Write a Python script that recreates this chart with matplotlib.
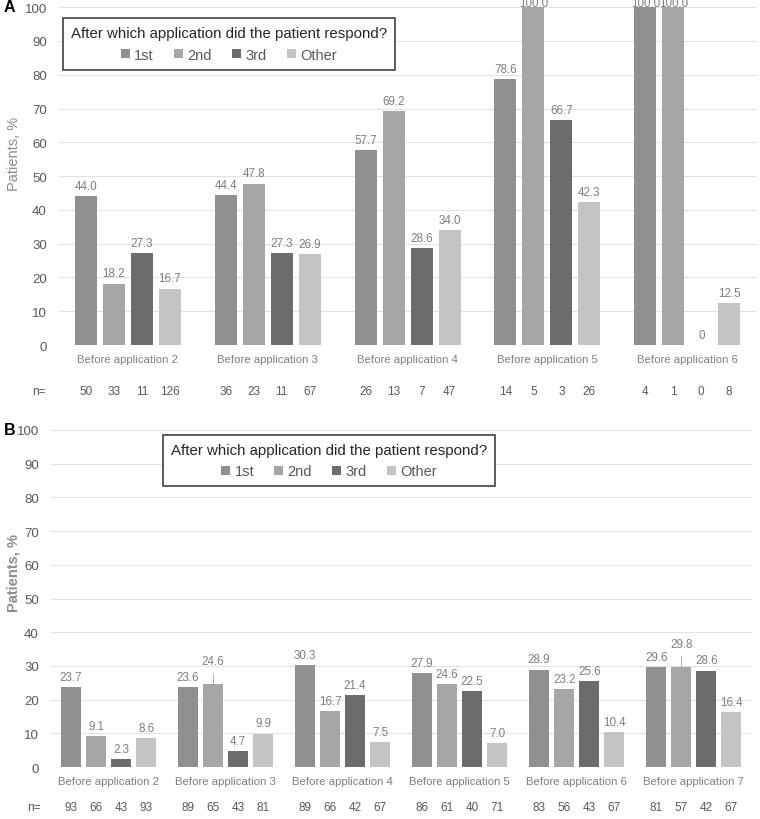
import numpy as np
import matplotlib
matplotlib.use("Agg")
import matplotlib.pyplot as plt
from matplotlib.patches import Patch

plt.rcParams["font.family"] = ["Liberation Sans", "DejaVu Sans"]

series = ["1st", "2nd", "3rd", "Other"]
colors = ["#909090", "#a6a6a6", "#6c6c6c", "#c4c4c4"]

# panel A
groups_a = ["Before application 2", "Before application 3", "Before application 4",
            "Before application 5", "Before application 6"]
a_1st = [44.0, 44.4, 57.7, 78.6, 100.0]
a_2nd = [18.2, 47.8, 69.2, 100.0, 100.0]
a_3rd = [27.3, 27.3, 28.6, 66.7, 0]
a_oth = [16.7, 26.9, 34.0, 42.3, 12.5]
n_a = [[50, 33, 11, 126], [36, 23, 11, 67], [26, 13, 7, 47], [14, 5, 3, 26], [4, 1, 0, 8]]

# panel B
groups_b = ["Before application 2", "Before application 3", "Before application 4",
            "Before application 5", "Before application 6", "Before application 7"]
b_1st = [23.7, 23.6, 30.3, 27.9, 28.9, 29.6]
b_2nd = [9.1, 24.6, 16.7, 24.6, 23.2, 29.8]
b_3rd = [2.3, 4.7, 21.4, 22.5, 25.6, 28.6]
b_oth = [8.6, 9.9, 7.5, 7.0, 10.4, 16.4]
n_b = [[93, 66, 43, 93], [89, 65, 43, 81], [89, 66, 42, 67], [86, 61, 40, 71],
       [83, 56, 43, 67], [81, 57, 42, 67]]

# labels lifted with a leader line: (series index, group index)
lifted_b = [(1, 1), (1, 5)]

LBL = "#7f7f7f"
TXT = "#595959"


def panel(ax, groups, vals, ns, pitch, width, bold_ylabel, ylab_xy, n_off,
          lifted=()):
    x = np.arange(len(groups))
    offs = (np.arange(4) - 1.5) * pitch
    for i, (v, c) in enumerate(zip(vals, colors)):
        bars = ax.bar(x + offs[i], v, width, color=c, zorder=3)
        for j, (b, val) in enumerate(zip(bars, v)):
            cx = b.get_x() + b.get_width() / 2
            up = 12 if (i, j) in lifted else 3
            if val >= 99:  # top labels sit on the frame edge, as in the source
                up = -1
            ax.annotate(f"{val:.1f}" if val else "0", (cx, val), xytext=(0, up),
                        textcoords="offset points", ha="center", va="bottom",
                        fontsize=8.4, color=LBL, annotation_clip=False)
            if (i, j) in lifted:
                ax.plot([cx, cx], [val, val + 3.0], color="#b0b0b0", lw=0.7, zorder=4,
                        clip_on=False)
        for j in range(len(groups)):
            ax.annotate(str(ns[j][i]), (x[j] + offs[i], 0), xytext=(0, n_off),
                        textcoords="offset points", ha="center", va="center",
                        fontsize=8.5, color=TXT, annotation_clip=False)
    for j, g in enumerate(groups):
        ax.annotate(g, (x[j], 0), xytext=(0, -10), textcoords="offset points",
                    ha="center", va="center", fontsize=8.2, color=LBL,
                    annotation_clip=False)
    ax.annotate("n=", (-0.64, 0), xytext=(0, n_off), textcoords="offset points",
                ha="center", va="center", fontsize=8.5, color=TXT, annotation_clip=False)
    ax.set_xlim(-0.5, len(groups) - 0.5)
    ax.set_ylim(0, 100)
    ax.set_yticks(range(0, 101, 10))
    ax.set_xticks([])
    ax.tick_params(axis="y", length=0, labelsize=9.5, labelcolor=TXT, pad=8)
    ax.grid(axis="y", color="#e2e2e2", lw=0.8, zorder=0)
    for s in ax.spines.values():
        s.set_visible(False)
    ax.set_ylabel("Patients, %", fontsize=10.5, color="#8c8c8c",
                  fontweight="bold" if bold_ylabel else "normal")
    ax.yaxis.set_label_coords(*ylab_xy)


fig = plt.figure(figsize=(7.6, 8.2), dpi=100)
ax_a = fig.add_axes([0.0763, 0.578, 0.920, 0.412])
ax_b = fig.add_axes([0.0658, 0.0634, 0.924, 0.411])

panel(ax_a, groups_a, [a_1st, a_2nd, a_3rd, a_oth], n_a, 0.2, 0.157, False,
      (-0.053, 0.57), -33)
panel(ax_b, groups_b, [b_1st, b_2nd, b_3rd, b_oth], n_b, 0.214, 0.171, True,
      (-0.042, 0.58), -29, lifted=lifted_b)

fig.text(4 / 760, 1 - 8 / 820, "A", fontsize=11.5, fontweight="bold", va="center")
fig.text(4 / 760, 1 - 431 / 820, "B", fontsize=11.5, fontweight="bold", va="center")

handles = [Patch(facecolor=c, edgecolor="none") for c in colors]
for ax, anchor in [(ax_a, (0.007, 0.967)), (ax_b, (0.161, 0.985))]:
    leg = ax.legend(handles, series, title="After which application did the patient respond?",
                    ncol=4, loc="upper left", bbox_to_anchor=anchor, borderaxespad=0,
                    fontsize=10.5, title_fontsize=10.8, handlelength=0.6, handleheight=0.6,
                    handletextpad=0.3, columnspacing=1.4, fancybox=False, framealpha=1,
                    edgecolor="#404040", borderpad=0.55)
    leg.get_frame().set_linewidth(1.2)
    for t in leg.get_texts():
        t.set_color(TXT)
    leg.get_title().set_color("#262626")
    leg.set_zorder(10)

fig.savefig("out.png", dpi=100)
